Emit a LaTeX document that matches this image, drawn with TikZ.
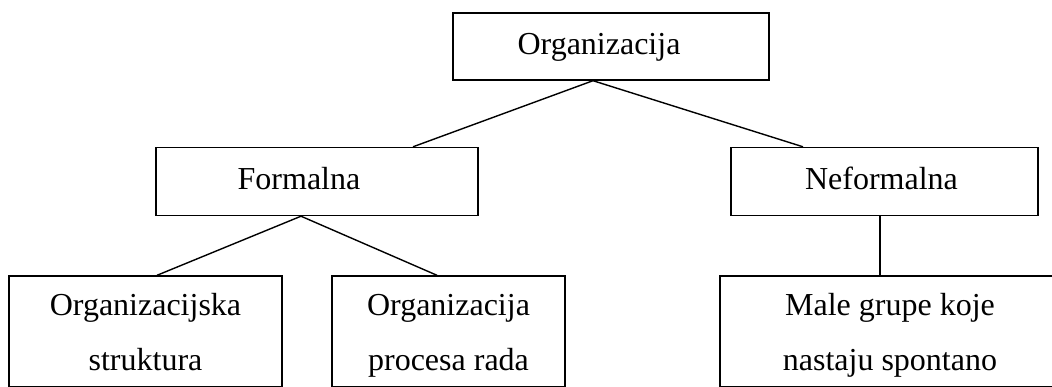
\documentclass[tikz,border=0pt]{standalone}
\usepackage{fontspec}
\setmainfont{Liberation Serif}
\usetikzlibrary{positioning}

\begin{document}
\begin{tikzpicture}[x=0.5pt, y=-0.5pt
        , line width=0.7pt
        , box/.style={ draw, rectangle, inner sep=0pt, line width=0.7pt,
            font=\fontsize{16}{27.5}\selectfont }
        , onebox/.style={ box, minimum height=34pt, text height=11pt, text depth=3.5pt }
        , twobox/.style={ box, minimum height=55.5pt, align=center }
        ]

        \useasboundingbox (0,0) rectangle (1052,386);
        \clip (0,0) rectangle (1052,386);

        % top level
        \node[onebox, minimum width=158pt, minimum height=33.5pt] (org) at (611,46.5)
            {Organizacija\hspace*{12pt}};

        % second level
        \node[onebox, minimum width=161pt] (form) at (317,181.5) {Formalna\hspace*{18pt}};
        \node[onebox, minimum width=153.5pt] (neform) at (884.5,181.5) {Neformalna\hspace*{3pt}};

        % third level
        \node[twobox, minimum width=136.5pt] (orgstr) at (145.5,331.5)
            {\strut Organizacijska\\\strut struktura};
        \node[twobox, minimum width=116.5pt] (orgproc) at (448.5,331.5)
            {\strut Organizacija\\\strut procesa rada};
        \node[twobox, minimum width=170pt] (grupe) at (890,331.5)
            {\strut Male grupe koje\\\strut nastaju spontano};

        \path[draw] ([xshift=-9pt]org.south) edge ([xshift=48pt]form.north)
            edge ([xshift=-40.75pt]neform.north);
        \path[draw] ([xshift=-8pt]form.south) edge ([xshift=5.75pt]orgstr.north)
            edge ([xshift=-5.75pt]orgproc.north);
        \draw ([xshift=-2.25pt]neform.south) -- ([xshift=-5pt]grupe.north);

    \end{tikzpicture}
\end{document}
